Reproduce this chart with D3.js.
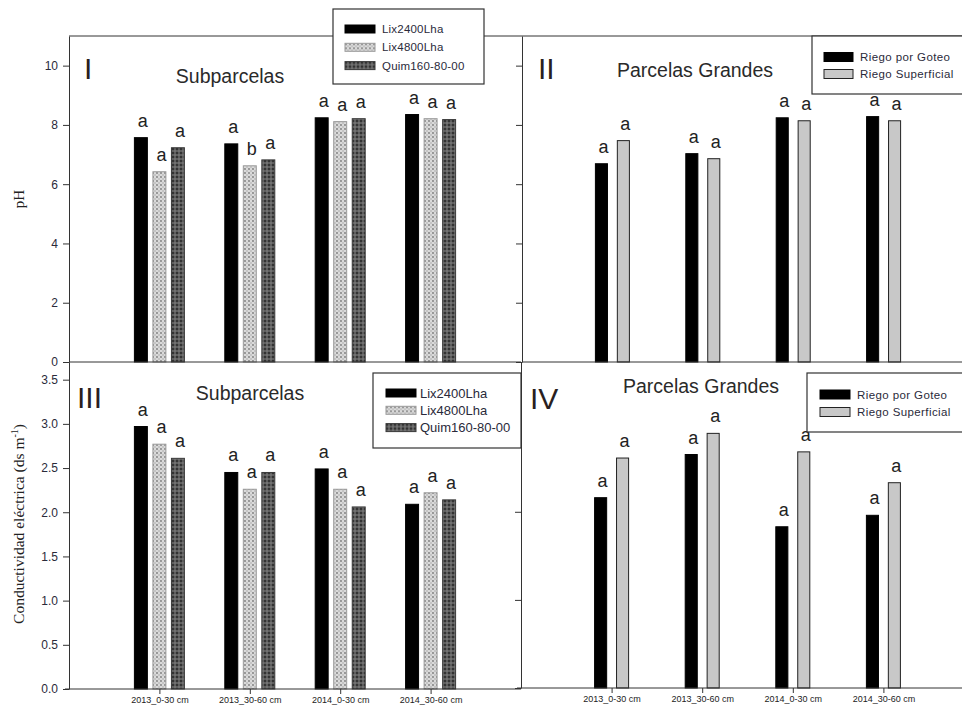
<!DOCTYPE html>
<html>
<head>
<meta charset="utf-8">
<script src="https://cdn.jsdelivr.net/npm/d3@7"></script>
<style>
body { margin: 0; background: #fff; }
svg { display: block; }
text { font-family: "Liberation Sans", Arial, sans-serif; }
</style>
</head>
<body>
<svg id="chart" width="962" height="709"></svg>
<script>
const categories = ['2013_0-30 cm', '2013_30-60 cm', '2014_0-30 cm', '2014_30-60 cm']
const subSeries = ['Lix2400Lha', 'Lix4800Lha', 'Quim160-80-00']
const bigSeries = ['Riego por Goteo', 'Riego Superficial']

// pH - subparcelas (I)
const phLix2400 = [7.57, 7.36, 8.24, 8.35]
const phLix4800 = [6.42, 6.62, 8.11, 8.21]
const phQuim = [7.23, 6.82, 8.21, 8.18]
const phSubLetters = [['a', 'a', 'a', 'a'], ['a', 'b', 'a', 'a'], ['a', 'a', 'a', 'a']]

// pH - parcelas grandes (II)
const phGoteo = [6.69, 7.03, 8.24, 8.28]
const phSuperficial = [7.47, 6.86, 8.14, 8.14]
const phBigLetters = [['a', 'a', 'a', 'a'], ['a', 'a', 'a', 'a']]

// conductividad - subparcelas (III)
const ceLix2400 = [2.97, 2.45, 2.49, 2.09]
const ceLix4800 = [2.77, 2.26, 2.26, 2.22]
const ceQuim = [2.61, 2.45, 2.06, 2.14]
const ceSubLetters = [['a', 'a', 'a', 'a'], ['a', 'a', 'a', 'a'], ['a', 'a', 'a', 'a']]

// conductividad - parcelas grandes (IV)
const ceGoteo = [2.16, 2.65, 1.83, 1.96]
const ceSuperficial = [2.61, 2.89, 2.68, 2.33]
const ceBigLetters = [['a', 'a', 'a', 'a'], ['a', 'a', 'a', 'a']]

const phTicks = [0, 2, 4, 6, 8, 10]
const ceTicks = [0, 0.5, 1, 1.5, 2, 2.5, 3, 3.5]
const ceTicksBig = [0, 1, 2, 3]

const svg = d3.select('#chart')
svg.append('rect').attr('width', 962).attr('height', 709).attr('fill', '#fff')

// bar patterns
const defs = svg.append('defs')
let lightPat = defs.append('pattern').attr('id', 'light')
    .attr('patternUnits', 'userSpaceOnUse').attr('width', 4).attr('height', 4)
lightPat.append('rect').attr('width', 4).attr('height', 4).attr('fill', '#dadada')
lightPat.append('circle').attr('cx', 1).attr('cy', 1).attr('r', 0.9).attr('fill', '#7a7a7a')
lightPat.append('circle').attr('cx', 3).attr('cy', 3).attr('r', 0.8).attr('fill', '#a8a8a8')
let darkPat = defs.append('pattern').attr('id', 'dark')
    .attr('patternUnits', 'userSpaceOnUse').attr('width', 4).attr('height', 4)
darkPat.append('rect').attr('width', 4).attr('height', 4).attr('fill', '#5e5e5e')
darkPat.append('circle').attr('cx', 1).attr('cy', 1).attr('r', 0.9).attr('fill', '#1e1e1e')
darkPat.append('circle').attr('cx', 3).attr('cy', 3).attr('r', 0.8).attr('fill', '#8a8a8a')

const subStyle = [
    {fill: '#000', stroke: '#000'},
    {fill: 'url(#light)', stroke: '#9a9a9a'},
    {fill: 'url(#dark)', stroke: '#3a3a3a'}
]
const bigStyle = [
    {fill: '#000', stroke: '#000'},
    {fill: '#c8c8c8', stroke: '#222'}
]

const axisColor = '#333'

const draw_panel = (p) => {
    let g = svg.append('g')
    let x = d3.scalePoint().domain(categories).range([p.left, p.right]).padding(1)
    let y = d3.scaleLinear().domain([0, p.yMax]).range([p.bottom, p.top])
    let inner = d3.scaleBand().domain(p.series).range(p.band).paddingInner(p.pad)

    // bars
    p.values.forEach((vals, si) => {
        g.append('g').selectAll('rect')
            .data(vals)
            .join('rect')
            .attr('x', (d, i) => x(categories[i]) + inner(p.series[si]))
            .attr('y', (d) => y(d))
            .attr('width', inner.bandwidth())
            .attr('height', (d) => y(0) - y(d))
            .attr('fill', p.styles[si].fill)
            .attr('stroke', p.styles[si].stroke)
            .attr('stroke-width', 1)
        g.append('g').selectAll('text')
            .data(vals)
            .join('text')
            .attr('x', (d, i) => x(categories[i]) + inner(p.series[si]) + inner.bandwidth() / 2 + 2)
            .attr('y', (d) => y(d) - 11)
            .attr('text-anchor', 'middle')
            .attr('font-size', 18)
            .attr('fill', '#222')
            .text((d, i) => p.letters[si][i])
    })

    // y axis
    let yAxis = d3.axisLeft(y).tickValues(p.ticks).tickSize(6).tickSizeOuter(0).tickPadding(5)
        .tickFormat(p.showLabels ? d3.format(p.fmt) : '')
    let ya = g.append('g').attr('transform', `translate(${p.left},0)`).call(yAxis)
    ya.selectAll('path, line').attr('stroke', axisColor)
    ya.selectAll('text').attr('font-size', 12).attr('fill', '#2a2a3a')
        .style('font-family', '"Liberation Sans", Arial, sans-serif')

    // x axis
    if (p.xAxis) {
        let xAxis = d3.axisBottom(x).tickSize(5).tickSizeOuter(0).tickPadding(3)
        let xa = g.append('g').attr('transform', `translate(0,${p.bottom})`).call(xAxis)
        xa.select('.domain').attr('d', `M${p.left - 4},0H${p.right}`)
        xa.selectAll('path, line').attr('stroke', axisColor)
        xa.selectAll('text').attr('font-size', 9).attr('fill', '#222')
            .style('font-family', '"Liberation Sans", Arial, sans-serif')
    } else {
        g.append('line').attr('x1', p.left).attr('x2', p.right)
            .attr('y1', p.bottom).attr('y2', p.bottom).attr('stroke', axisColor)
    }

    // title and numeral
    g.append('text').attr('x', p.titleX).attr('y', p.titleY)
        .attr('text-anchor', 'middle').attr('font-size', 19.5).attr('fill', '#2a2a2a')
        .text(p.title)
    g.append('text').attr('x', p.romanX).attr('y', p.romanY)
        .attr('font-size', 30).attr('fill', '#2a1f1f')
        .text(p.roman)
}

const draw_legend = (l) => {
    let g = svg.append('g')
    g.append('rect').attr('x', l.x).attr('y', l.y).attr('width', l.w).attr('height', l.h)
        .attr('fill', '#fff').attr('stroke', axisColor).attr('stroke-width', 1.2)
    let rows = g.selectAll('g.row').data(l.series).join('g').attr('class', 'row')
        .attr('transform', (d, i) => `translate(${l.sx},${l.sy + i * l.step})`)
    rows.append('rect').attr('x', 0).attr('y', -l.sh / 2)
        .attr('width', l.sw).attr('height', l.sh)
        .attr('fill', (d, i) => l.styles[i].fill)
        .attr('stroke', (d, i) => l.styles[i].stroke)
    rows.append('text').attr('x', l.sw + l.gap).attr('y', l.fs * 0.36)
        .attr('font-size', l.fs).attr('letter-spacing', l.ls).attr('fill', '#2a2a3a')
        .text((d) => d)
}

// top frame line
svg.append('line').attr('x1', 69).attr('x2', 962).attr('y1', 36).attr('y2', 36).attr('stroke', axisColor)

draw_panel({left: 69, right: 521, top: 36, bottom: 362, yMax: 11, ticks: phTicks, fmt: 'd', showLabels: true,
    series: subSeries, values: [phLix2400, phLix4800, phQuim], letters: phSubLetters, styles: subStyle,
    band: [-25, 25], pad: 0.3, xAxis: false,
    title: 'Subparcelas', titleX: 230, titleY: 83, roman: 'I', romanX: 84, romanY: 79})
draw_panel({left: 522, right: 974, top: 36, bottom: 362, yMax: 11, ticks: phTicks, fmt: 'd', showLabels: false,
    series: bigSeries, values: [phGoteo, phSuperficial], letters: phBigLetters, styles: bigStyle,
    band: [-17, 17], pad: 0.45, xAxis: false,
    title: 'Parcelas Grandes', titleX: 695, titleY: 77, roman: 'II', romanX: 538, romanY: 79})
draw_panel({left: 69, right: 521, top: 362, bottom: 689, yMax: 3.7, ticks: ceTicks, fmt: '.1f', showLabels: true,
    series: subSeries, values: [ceLix2400, ceLix4800, ceQuim], letters: ceSubLetters, styles: subStyle,
    band: [-25, 25], pad: 0.3, xAxis: true,
    title: 'Subparcelas', titleX: 250, titleY: 400, roman: 'III', romanX: 77, romanY: 408})
draw_panel({left: 521, right: 974, top: 362, bottom: 688, yMax: 3.7, ticks: ceTicksBig, fmt: 'd', showLabels: false,
    series: bigSeries, values: [ceGoteo, ceSuperficial], letters: ceBigLetters, styles: bigStyle,
    band: [-17, 17], pad: 0.45, xAxis: true,
    title: 'Parcelas Grandes', titleX: 701, titleY: 393, roman: 'IV', romanX: 530, romanY: 409})

// legends
draw_legend({x: 333, y: 9, w: 151, h: 75, series: subSeries, styles: subStyle,
    sx: 345, sy: 29, step: 18.3, sw: 30, sh: 8, gap: 7, fs: 11.5, ls: 0.2})
draw_legend({x: 812, y: 36, w: 170, h: 58, series: bigSeries, styles: bigStyle,
    sx: 824, sy: 57, step: 17, sw: 29, sh: 9, gap: 7, fs: 11.5, ls: 0.4})
draw_legend({x: 373, y: 373, w: 148, h: 75, series: subSeries, styles: subStyle,
    sx: 386, sy: 393, step: 17.3, sw: 30, sh: 8, gap: 4, fs: 13, ls: 0})
draw_legend({x: 807, y: 373, w: 175, h: 59, series: bigSeries, styles: bigStyle,
    sx: 820, sy: 394.5, step: 17.5, sw: 30, sh: 9, gap: 7, fs: 11.5, ls: 0.4})

// y axis titles
svg.append('text')
    .attr('transform', 'translate(24,199) rotate(-90)')
    .attr('text-anchor', 'middle')
    .attr('font-size', 15)
    .attr('fill', '#222')
    .style('font-family', '"Liberation Serif", "Times New Roman", serif')
    .text('pH')
let ce = svg.append('text')
    .attr('transform', 'translate(24,524) rotate(-90)')
    .attr('text-anchor', 'middle')
    .attr('font-size', 15.5)
    .attr('fill', '#222')
    .style('font-family', '"Liberation Serif", "Times New Roman", serif')
ce.append('tspan').text('Conductividad eléctrica (ds m')
ce.append('tspan').attr('font-size', 10).attr('dy', -6).text('-1')
ce.append('tspan').attr('dy', 6).text(')')
</script>
</body>
</html>
